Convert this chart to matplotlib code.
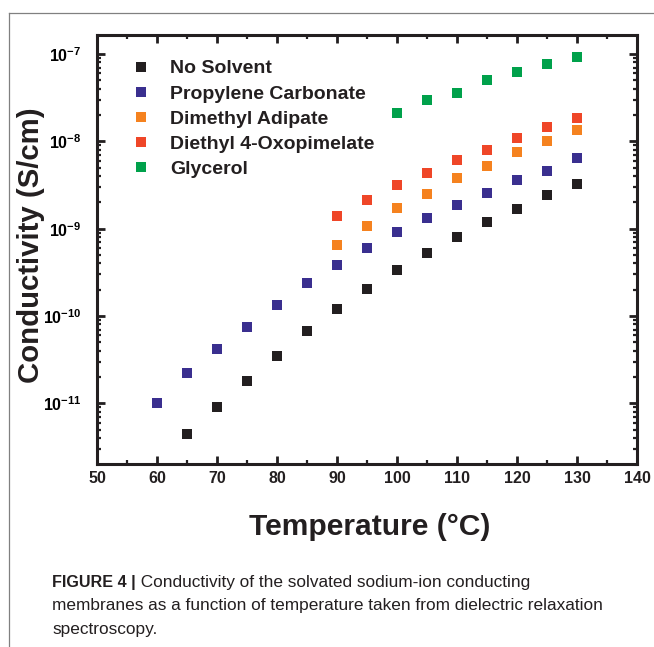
import matplotlib
matplotlib.use("Agg")
import matplotlib.pyplot as plt
from matplotlib.lines import Line2D
from matplotlib.ticker import MultipleLocator, LogLocator, FixedLocator, NullFormatter

plt.rcParams['font.family'] = ['Liberation Sans', 'DejaVu Sans']
plt.rcParams['mathtext.fontset'] = 'custom'
plt.rcParams['mathtext.rm'] = 'Liberation Sans:bold'
plt.rcParams['mathtext.it'] = 'Liberation Sans:bold'
plt.rcParams['mathtext.bf'] = 'Liberation Sans:bold'
plt.rcParams['mathtext.default'] = 'rm'

# ---- data ----
temps_no_solvent = [65, 70, 75, 80, 85, 90, 95, 100, 105, 110, 115, 120, 125, 130]
no_solvent = [4.4e-12, 9.0e-12, 1.82e-11, 3.47e-11, 6.65e-11, 1.19e-10, 2.02e-10,
              3.33e-10, 5.26e-10, 8.0e-10, 1.19e-9, 1.67e-9, 2.4e-9, 3.23e-9]
temps_pc = [60, 65, 70, 75, 80, 85, 90, 95, 100, 105, 110, 115, 120, 125, 130]
propylene_carbonate = [1.02e-11, 2.2e-11, 4.14e-11, 7.46e-11, 1.32e-10, 2.39e-10, 3.8e-10,
                       6.0e-10, 9.16e-10, 1.33e-9, 1.87e-9, 2.57e-9, 3.59e-9, 4.59e-9, 6.47e-9]
temps_da = [90, 95, 100, 105, 110, 115, 120, 125, 130]
dimethyl_adipate = [6.46e-10, 1.07e-9, 1.73e-9, 2.48e-9, 3.82e-9, 5.2e-9, 7.58e-9, 1.01e-8, 1.34e-8]
temps_dop = [90, 95, 100, 105, 110, 115, 120, 125, 130]
diethyl_oxopimelate = [1.39e-9, 2.12e-9, 3.15e-9, 4.35e-9, 6.08e-9, 7.92e-9, 1.09e-8, 1.47e-8, 1.86e-8]
temps_gly = [100, 105, 110, 115, 120, 125, 130]
glycerol = [2.12e-8, 2.96e-8, 3.6e-8, 5.03e-8, 6.22e-8, 7.67e-8, 9.31e-8]

series_labels = ["No Solvent", "Propylene Carbonate", "Dimethyl Adipate",
                 "Diethyl 4-Oxopimelate", "Glycerol"]
series_colors = ["#231f20", "#3a2f8f", "#f5821f", "#ef4628", "#00a14b"]

x_ticks = [50, 60, 70, 80, 90, 100, 110, 120, 130, 140]
y_ticks = [1e-11, 1e-10, 1e-9, 1e-8, 1e-7]
y_tick_labels = [r"$10^{-11}$", r"$10^{-10}$", r"$10^{-9}$", r"$10^{-8}$", r"$10^{-7}$"]

caption_bold = "FIGURE 4 |"
caption_lines = ["Conductivity of the solvated sodium-ion conducting",
                 "membranes as a function of temperature taken from dielectric relaxation",
                 "spectroscopy."]

# ---- figure ----
W, H = 654, 647
fig = plt.figure(figsize=(W / 100, H / 100), dpi=100)
ax = fig.add_axes([97 / W, 1 - 464 / H, (637 - 97) / W, (464 - 35) / H])

all_x = [temps_no_solvent, temps_pc, temps_da, temps_dop, temps_gly]
all_y = [no_solvent, propylene_carbonate, dimethyl_adipate, diethyl_oxopimelate, glycerol]
for xs, ys, lab, col in zip(all_x, all_y, series_labels, series_colors):
    ax.plot(xs, ys, linestyle='none', marker='s', markersize=7.2,
            markeredgewidth=0, color=col, label=lab)

ax.set_yscale('log')
ax.set_xlim(50, 140)
ax.set_ylim(10 ** -11.695, 10 ** -6.782)

ax.xaxis.set_major_locator(FixedLocator(x_ticks))
ax.set_xticklabels([str(v) for v in x_ticks])
ax.xaxis.set_minor_locator(MultipleLocator(5))
ax.yaxis.set_major_locator(FixedLocator(y_ticks))
ax.set_yticklabels(y_tick_labels)
ax.yaxis.set_minor_locator(LogLocator(base=10, subs=range(2, 10), numticks=20))
ax.yaxis.set_minor_formatter(NullFormatter())

for sp in ax.spines.values():
    sp.set_linewidth(2.2)
    sp.set_color('#231f20')

ax.tick_params(axis='both', which='major', direction='in', length=5.5, width=2,
               top=True, right=True, color='#231f20')
ax.tick_params(axis='both', which='minor', direction='in', length=3, width=1.6,
               top=True, right=True, color='#231f20')
ax.tick_params(axis='x', which='major', pad=5, labelsize=11.5)
ax.tick_params(axis='y', which='major', pad=11, labelsize=11.5)
for lbl in ax.get_xticklabels():
    lbl.set_fontweight('bold')
    lbl.set_color('#231f20')

ax.set_xlabel("Temperature (°C)", fontsize=21.6, fontweight='bold', color='#231f20', va='center')
ax.xaxis.set_label_coords(0.5045, -0.147)
ax.set_ylabel("Conductivity (S/cm)", fontsize=21.2, fontweight='bold', color='#231f20', va='center')
ax.yaxis.set_label_coords(-0.122, 0.51)

leg = ax.legend(loc='upper left', bbox_to_anchor=(0.064, 0.942), frameon=False,
                prop={'family': 'Liberation Sans', 'weight': 'bold', 'size': 14},
                handlelength=1.0, handletextpad=1.0, labelspacing=0.39,
                borderpad=0, borderaxespad=0)
for t in leg.get_texts():
    t.set_color('#231f20')

# ---- frame lines of the figure panel ----
fig.add_artist(Line2D([9 / W, 1], [1 - 13 / H, 1 - 13 / H], transform=fig.transFigure,
                      color='#808080', lw=0.9))
fig.add_artist(Line2D([9 / W, 9 / W], [0, 1 - 13 / H], transform=fig.transFigure,
                      color='#808080', lw=0.9))

# ---- caption ----
cap_size = 12.4
t1 = fig.text(52 / W, 1 - 586.7 / H, caption_bold, fontsize=11.6, fontweight='bold',
              color='#231f20', va='baseline', ha='left')
ax.annotate(" " + caption_lines[0], xy=(1, 0), xycoords=t1,
            fontsize=cap_size, color='#231f20', va='bottom', ha='left', annotation_clip=False)
fig.text(52 / W, 1 - 610 / H, caption_lines[1],
         fontsize=cap_size, color='#231f20', va='baseline', ha='left')
fig.text(52 / W, 1 - 634 / H, caption_lines[2], fontsize=cap_size, color='#231f20',
         va='baseline', ha='left')

fig.savefig("out.png", dpi=100)
